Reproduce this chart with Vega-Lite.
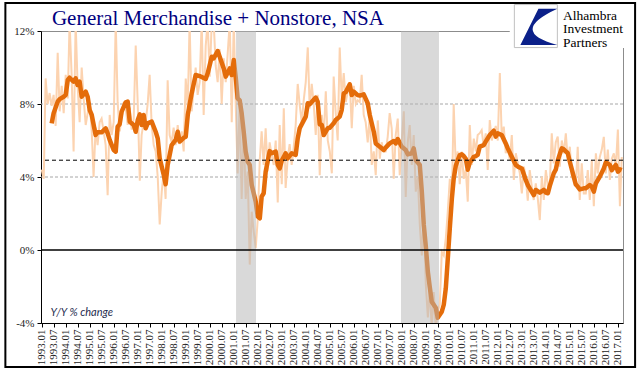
{
  "$schema": "https://vega.github.io/schema/vega-lite/v6.json",
  "width": 582,
  "height": 292,
  "autosize": {"type": "none"},
  "padding": {"left": 41, "top": 31, "right": 18, "bottom": 52},
  "background": "white",
  "datasets": {
    "thin": [
      {"d":"1993-01-01","v":4.4},{"d":"1993-02-01","v":3.9},{"d":"1993-03-01","v":9.4},{"d":"1993-04-01","v":8.0},{"d":"1993-05-01","v":8.6},{"d":"1993-06-01","v":7.9},{"d":"1993-07-01","v":8.5},{"d":"1993-08-01","v":6.8},{"d":"1993-09-01","v":10.8},{"d":"1993-10-01","v":7.6},{"d":"1993-11-01","v":9.0},{"d":"1993-12-01","v":7.5},
      {"d":"1994-01-01","v":9.6},{"d":"1994-02-01","v":8.3},{"d":"1994-03-01","v":12.5},{"d":"1994-04-01","v":9.6},{"d":"1994-05-01","v":5.4},{"d":"1994-06-01","v":12.5},{"d":"1994-07-01","v":9.0},{"d":"1994-08-01","v":7.0},{"d":"1994-09-01","v":10.0},{"d":"1994-10-01","v":8.3},{"d":"1994-11-01","v":6.85},{"d":"1994-12-01","v":7.5},
      {"d":"1995-01-01","v":8.1},{"d":"1995-02-01","v":6.5},{"d":"1995-03-01","v":4.0},{"d":"1995-04-01","v":6.7},{"d":"1995-05-01","v":5.75},{"d":"1995-06-01","v":7.0},{"d":"1995-07-01","v":7.2},{"d":"1995-08-01","v":6.5},{"d":"1995-09-01","v":5.75},{"d":"1995-10-01","v":3.0},{"d":"1995-11-01","v":7.4},{"d":"1995-12-01","v":6.3},
      {"d":"1996-01-01","v":7.0},{"d":"1996-02-01","v":12.5},{"d":"1996-03-01","v":8.1},{"d":"1996-04-01","v":6.5},{"d":"1996-05-01","v":7.2},{"d":"1996-06-01","v":8.1},{"d":"1996-07-01","v":7.8},{"d":"1996-08-01","v":6.85},{"d":"1996-09-01","v":7.8},{"d":"1996-10-01","v":6.6},{"d":"1996-11-01","v":7.2},{"d":"1996-12-01","v":11.2},
      {"d":"1997-01-01","v":8.0},{"d":"1997-02-01","v":3.8},{"d":"1997-03-01","v":6.3},{"d":"1997-04-01","v":7.0},{"d":"1997-05-01","v":7.0},{"d":"1997-06-01","v":8.0},{"d":"1997-07-01","v":9.6},{"d":"1997-08-01","v":6.85},{"d":"1997-09-01","v":5.75},{"d":"1997-10-01","v":5.4},{"d":"1997-11-01","v":4.0},{"d":"1997-12-01","v":1.4},
      {"d":"1998-01-01","v":3.2},{"d":"1998-02-01","v":4.3},{"d":"1998-03-01","v":2.8},{"d":"1998-04-01","v":9.3},{"d":"1998-05-01","v":6.3},{"d":"1998-06-01","v":5.9},{"d":"1998-07-01","v":6.7},{"d":"1998-08-01","v":5.75},{"d":"1998-09-01","v":6.85},{"d":"1998-10-01","v":5.8},{"d":"1998-11-01","v":6.5},{"d":"1998-12-01","v":5.4},
      {"d":"1999-01-01","v":9.4},{"d":"1999-02-01","v":7.8},{"d":"1999-03-01","v":12.5},{"d":"1999-04-01","v":7.6},{"d":"1999-05-01","v":8.8},{"d":"1999-06-01","v":10.0},{"d":"1999-07-01","v":8.5},{"d":"1999-08-01","v":9.2},{"d":"1999-09-01","v":12.5},{"d":"1999-10-01","v":7.4},{"d":"1999-11-01","v":11.2},{"d":"1999-12-01","v":12.5},
      {"d":"2000-01-01","v":9.5},{"d":"2000-02-01","v":12.5},{"d":"2000-03-01","v":12.5},{"d":"2000-04-01","v":10.1},{"d":"2000-05-01","v":9.2},{"d":"2000-06-01","v":11.0},{"d":"2000-07-01","v":8.0},{"d":"2000-08-01","v":10.5},{"d":"2000-09-01","v":9.2},{"d":"2000-10-01","v":10.8},{"d":"2000-11-01","v":12.5},{"d":"2000-12-01","v":7.0},
      {"d":"2001-01-01","v":12.5},{"d":"2001-02-01","v":7.8},{"d":"2001-03-01","v":4.2},{"d":"2001-04-01","v":8.1},{"d":"2001-05-01","v":2.8},{"d":"2001-06-01","v":6.85},{"d":"2001-07-01","v":2.8},{"d":"2001-08-01","v":4.3},{"d":"2001-09-01","v":-0.8},{"d":"2001-10-01","v":2.1},{"d":"2001-11-01","v":1.0},{"d":"2001-12-01","v":0.1},
      {"d":"2002-01-01","v":1.7},{"d":"2002-02-01","v":5.0},{"d":"2002-03-01","v":6.5},{"d":"2002-04-01","v":4.66},{"d":"2002-05-01","v":6.67},{"d":"2002-06-01","v":4.3},{"d":"2002-07-01","v":5.9},{"d":"2002-08-01","v":5.2},{"d":"2002-09-01","v":4.66},{"d":"2002-10-01","v":6.0},{"d":"2002-11-01","v":2.6},{"d":"2002-12-01","v":6.85},
      {"d":"2003-01-01","v":3.6},{"d":"2003-02-01","v":7.76},{"d":"2003-03-01","v":3.4},{"d":"2003-04-01","v":5.0},{"d":"2003-05-01","v":5.8},{"d":"2003-06-01","v":4.66},{"d":"2003-07-01","v":5.6},{"d":"2003-08-01","v":6.85},{"d":"2003-09-01","v":9.1},{"d":"2003-10-01","v":7.95},{"d":"2003-11-01","v":7.0},{"d":"2003-12-01","v":8.2},
      {"d":"2004-01-01","v":9.2},{"d":"2004-02-01","v":11.1},{"d":"2004-03-01","v":7.76},{"d":"2004-04-01","v":9.1},{"d":"2004-05-01","v":8.0},{"d":"2004-06-01","v":6.3},{"d":"2004-07-01","v":8.5},{"d":"2004-08-01","v":4.1},{"d":"2004-09-01","v":7.4},{"d":"2004-10-01","v":6.2},{"d":"2004-11-01","v":8.7},{"d":"2004-12-01","v":6.0},
      {"d":"2005-01-01","v":5.4},{"d":"2005-02-01","v":4.2},{"d":"2005-03-01","v":9.5},{"d":"2005-04-01","v":7.5},{"d":"2005-05-01","v":6.0},{"d":"2005-06-01","v":11.1},{"d":"2005-07-01","v":8.3},{"d":"2005-08-01","v":9.7},{"d":"2005-09-01","v":8.1},{"d":"2005-10-01","v":8.7},{"d":"2005-11-01","v":9.2},{"d":"2005-12-01","v":6.67},
      {"d":"2006-01-01","v":9.0},{"d":"2006-02-01","v":8.0},{"d":"2006-03-01","v":8.2},{"d":"2006-04-01","v":8.1},{"d":"2006-05-01","v":9.6},{"d":"2006-06-01","v":7.4},{"d":"2006-07-01","v":7.0},{"d":"2006-08-01","v":5.9},{"d":"2006-09-01","v":7.4},{"d":"2006-10-01","v":4.66},{"d":"2006-11-01","v":5.4},{"d":"2006-12-01","v":4.1},
      {"d":"2007-01-01","v":7.1},{"d":"2007-02-01","v":5.0},{"d":"2007-03-01","v":5.9},{"d":"2007-04-01","v":5.4},{"d":"2007-05-01","v":5.4},{"d":"2007-06-01","v":6.2},{"d":"2007-07-01","v":7.5},{"d":"2007-08-01","v":6.67},{"d":"2007-09-01","v":3.9},{"d":"2007-10-01","v":6.3},{"d":"2007-11-01","v":7.2},{"d":"2007-12-01","v":4.1},
      {"d":"2008-01-01","v":6.0},{"d":"2008-02-01","v":7.6},{"d":"2008-03-01","v":2.9},{"d":"2008-04-01","v":5.9},{"d":"2008-05-01","v":6.85},{"d":"2008-06-01","v":4.66},{"d":"2008-07-01","v":6.3},{"d":"2008-08-01","v":3.2},{"d":"2008-09-01","v":4.0},{"d":"2008-10-01","v":1.4},{"d":"2008-11-01","v":-0.3},{"d":"2008-12-01","v":2.1},
      {"d":"2009-01-01","v":-1.9},{"d":"2009-02-01","v":-3.7},{"d":"2009-03-01","v":-2.1},{"d":"2009-04-01","v":-4.3},{"d":"2009-05-01","v":-2.3},{"d":"2009-06-01","v":-4.3},{"d":"2009-07-01","v":-3.4},{"d":"2009-08-01","v":-3.0},{"d":"2009-09-01","v":-0.1},{"d":"2009-10-01","v":-0.3},{"d":"2009-11-01","v":0.64},{"d":"2009-12-01","v":2.1},
      {"d":"2010-01-01","v":3.9},{"d":"2010-02-01","v":2.8},{"d":"2010-03-01","v":8.0},{"d":"2010-04-01","v":4.66},{"d":"2010-05-01","v":5.4},{"d":"2010-06-01","v":3.6},{"d":"2010-07-01","v":5.4},{"d":"2010-08-01","v":3.9},{"d":"2010-09-01","v":4.4},{"d":"2010-10-01","v":2.65},{"d":"2010-11-01","v":6.85},{"d":"2010-12-01","v":4.66},
      {"d":"2011-01-01","v":6.1},{"d":"2011-02-01","v":5.4},{"d":"2011-03-01","v":6.3},{"d":"2011-04-01","v":6.4},{"d":"2011-05-01","v":6.57},{"d":"2011-06-01","v":5.66},{"d":"2011-07-01","v":6.39},{"d":"2011-08-01","v":4.38},{"d":"2011-09-01","v":7.12},{"d":"2011-10-01","v":6.0},{"d":"2011-11-01","v":6.4},{"d":"2011-12-01","v":6.8},
      {"d":"2012-01-01","v":6.0},{"d":"2012-02-01","v":9.7},{"d":"2012-03-01","v":6.2},{"d":"2012-04-01","v":6.76},{"d":"2012-05-01","v":5.3},{"d":"2012-06-01","v":5.66},{"d":"2012-07-01","v":4.93},{"d":"2012-08-01","v":6.3},{"d":"2012-09-01","v":3.84},{"d":"2012-10-01","v":5.3},{"d":"2012-11-01","v":4.75},{"d":"2012-12-01","v":4.2},
      {"d":"2013-01-01","v":3.1},{"d":"2013-02-01","v":4.57},{"d":"2013-03-01","v":4.0},{"d":"2013-04-01","v":2.7},{"d":"2013-05-01","v":4.38},{"d":"2013-06-01","v":3.47},{"d":"2013-07-01","v":2.74},{"d":"2013-08-01","v":3.65},{"d":"2013-09-01","v":2.8},{"d":"2013-10-01","v":1.64},{"d":"2013-11-01","v":4.02},{"d":"2013-12-01","v":2.74},
      {"d":"2014-01-01","v":4.38},{"d":"2014-02-01","v":3.5},{"d":"2014-03-01","v":3.47},{"d":"2014-04-01","v":6.39},{"d":"2014-05-01","v":4.75},{"d":"2014-06-01","v":5.9},{"d":"2014-07-01","v":6.21},{"d":"2014-08-01","v":4.57},{"d":"2014-09-01","v":6.0},{"d":"2014-10-01","v":5.3},{"d":"2014-11-01","v":6.39},{"d":"2014-12-01","v":4.93},
      {"d":"2015-01-01","v":5.66},{"d":"2015-02-01","v":4.0},{"d":"2015-03-01","v":4.02},{"d":"2015-04-01","v":3.47},{"d":"2015-05-01","v":5.66},{"d":"2015-06-01","v":2.74},{"d":"2015-07-01","v":4.75},{"d":"2015-08-01","v":3.1},{"d":"2015-09-01","v":3.1},{"d":"2015-10-01","v":4.38},{"d":"2015-11-01","v":2.74},{"d":"2015-12-01","v":4.93},
      {"d":"2016-01-01","v":2.4},{"d":"2016-02-01","v":5.3},{"d":"2016-03-01","v":4.2},{"d":"2016-04-01","v":5.1},{"d":"2016-05-01","v":5.5},{"d":"2016-06-01","v":6.2},{"d":"2016-07-01","v":4.2},{"d":"2016-08-01","v":5.5},{"d":"2016-09-01","v":3.84},{"d":"2016-10-01","v":5.0},{"d":"2016-11-01","v":5.3},{"d":"2016-12-01","v":4.57},
      {"d":"2017-01-01","v":6.6},{"d":"2017-02-01","v":2.4},{"d":"2017-03-01","v":5.1}
    ],
    "thick": [
      {"d":"1993-06-01","v":6.94},{"d":"1993-07-01","v":7.49},{"d":"1993-09-01","v":8.13},{"d":"1993-10-01","v":8.27},{"d":"1993-12-01","v":8.4},{"d":"1994-01-01","v":8.49},{"d":"1994-02-01","v":9.32},{"d":"1994-03-01","v":9.44},{"d":"1994-05-01","v":9.22},{"d":"1994-06-01","v":9.41},{"d":"1994-07-01","v":9.04},{"d":"1994-08-01","v":9.22},{"d":"1994-09-01","v":8.4},{"d":"1994-11-01","v":8.68},{"d":"1994-12-01","v":8.4},
      {"d":"1995-01-01","v":7.67},{"d":"1995-02-01","v":7.4},{"d":"1995-04-01","v":6.3},{"d":"1995-05-01","v":6.45},{"d":"1995-07-01","v":6.45},{"d":"1995-09-01","v":6.67},{"d":"1995-10-01","v":6.39},{"d":"1995-11-01","v":6.03},{"d":"1996-01-01","v":5.48},{"d":"1996-02-01","v":5.39},{"d":"1996-03-01","v":6.76},{"d":"1996-04-01","v":6.89},{"d":"1996-05-01","v":7.58},{"d":"1996-07-01","v":8.09},{"d":"1996-08-01","v":8.13},{"d":"1996-09-01","v":7.03},{"d":"1996-11-01","v":6.85},{"d":"1996-12-01","v":6.48},
      {"d":"1997-01-01","v":7.12},{"d":"1997-02-01","v":7.43},{"d":"1997-03-01","v":6.85},{"d":"1997-04-01","v":7.4},{"d":"1997-05-01","v":6.67},{"d":"1997-06-01","v":6.94},{"d":"1997-08-01","v":7.03},{"d":"1997-10-01","v":6.48},{"d":"1997-11-01","v":6.12},{"d":"1997-12-01","v":5.02},{"d":"1998-02-01","v":4.11},{"d":"1998-03-01","v":3.6},{"d":"1998-04-01","v":4.66},{"d":"1998-06-01","v":5.75},{"d":"1998-08-01","v":6.03},{"d":"1998-09-01","v":6.48},{"d":"1998-10-01","v":5.94},{"d":"1998-12-01","v":6.15},
      {"d":"1999-01-01","v":6.21},{"d":"1999-02-01","v":7.4},{"d":"1999-04-01","v":8.58},{"d":"1999-06-01","v":9.59},{"d":"1999-08-01","v":9.53},{"d":"1999-11-01","v":9.37},{"d":"1999-12-01","v":9.68},{"d":"2000-02-01","v":10.59},{"d":"2000-03-01","v":10.5},{"d":"2000-05-01","v":10.9},{"d":"2000-06-01","v":10.59},{"d":"2000-08-01","v":9.95},{"d":"2000-09-01","v":9.5},{"d":"2000-11-01","v":9.95},{"d":"2000-12-01","v":9.59},
      {"d":"2001-01-01","v":10.41},{"d":"2001-02-01","v":9.41},{"d":"2001-03-01","v":8.31},{"d":"2001-04-01","v":8.2},{"d":"2001-05-01","v":7.5},{"d":"2001-06-01","v":6.48},{"d":"2001-07-01","v":5.4},{"d":"2001-08-01","v":4.84},{"d":"2001-09-01","v":4.66},{"d":"2001-10-01","v":3.56},{"d":"2001-12-01","v":2.65},{"d":"2002-01-01","v":1.83},{"d":"2002-02-01","v":1.74},{"d":"2002-03-01","v":2.92},{"d":"2002-04-01","v":3.11},{"d":"2002-05-01","v":4.29},{"d":"2002-07-01","v":5.42},{"d":"2002-08-01","v":5.3},{"d":"2002-10-01","v":5.39},{"d":"2002-11-01","v":4.66},{"d":"2002-12-01","v":4.47},
      {"d":"2003-01-01","v":4.9},{"d":"2003-02-01","v":5.1},{"d":"2003-03-01","v":5.3},{"d":"2003-04-01","v":5.02},{"d":"2003-06-01","v":5.3},{"d":"2003-08-01","v":5.21},{"d":"2003-09-01","v":6.12},{"d":"2003-10-01","v":6.67},{"d":"2004-01-01","v":7.31},{"d":"2004-02-01","v":8.04},{"d":"2004-03-01","v":7.98},{"d":"2004-06-01","v":8.35},{"d":"2004-07-01","v":8.13},{"d":"2004-08-01","v":6.89},{"d":"2004-09-01","v":6.85},{"d":"2004-10-01","v":6.3},{"d":"2004-12-01","v":6.67},
      {"d":"2005-01-01","v":6.7},{"d":"2005-03-01","v":6.94},{"d":"2005-04-01","v":7.12},{"d":"2005-06-01","v":7.31},{"d":"2005-07-01","v":7.67},{"d":"2005-08-01","v":8.58},{"d":"2005-09-01","v":8.65},{"d":"2005-11-01","v":9.08},{"d":"2005-12-01","v":8.49},{"d":"2006-01-01","v":8.68},{"d":"2006-03-01","v":8.49},{"d":"2006-04-01","v":8.46},{"d":"2006-06-01","v":8.53},{"d":"2006-08-01","v":8.04},{"d":"2006-09-01","v":7.4},{"d":"2006-11-01","v":6.48},{"d":"2006-12-01","v":5.84},
      {"d":"2007-02-01","v":5.66},{"d":"2007-04-01","v":5.48},{"d":"2007-05-01","v":5.61},{"d":"2007-07-01","v":5.84},{"d":"2007-09-01","v":5.97},{"d":"2007-10-01","v":5.84},{"d":"2007-11-01","v":6.08},{"d":"2008-01-01","v":5.66},{"d":"2008-03-01","v":5.48},{"d":"2008-04-01","v":5.24},{"d":"2008-06-01","v":5.3},{"d":"2008-07-01","v":5.57},{"d":"2008-08-01","v":4.93},{"d":"2008-10-01","v":4.66},{"d":"2008-11-01","v":3.2},{"d":"2008-12-01","v":1.37},
      {"d":"2009-01-01","v":0.2},{"d":"2009-02-01","v":-1.2},{"d":"2009-03-01","v":-2.0},{"d":"2009-04-01","v":-2.83},{"d":"2009-06-01","v":-3.16},{"d":"2009-07-01","v":-3.71},{"d":"2009-09-01","v":-3.38},{"d":"2009-10-01","v":-3.0},{"d":"2009-11-01","v":-2.1},{"d":"2009-12-01","v":-0.5},
      {"d":"2010-01-01","v":1.2},{"d":"2010-02-01","v":2.8},{"d":"2010-03-01","v":3.9},{"d":"2010-04-01","v":4.6},{"d":"2010-05-01","v":4.93},{"d":"2010-06-01","v":5.2},{"d":"2010-07-01","v":5.24},{"d":"2010-08-01","v":5.15},{"d":"2010-09-01","v":5.0},{"d":"2010-10-01","v":4.4},{"d":"2010-11-01","v":4.8},{"d":"2010-12-01","v":4.93},
      {"d":"2011-01-01","v":5.11},{"d":"2011-02-01","v":5.15},{"d":"2011-03-01","v":5.21},{"d":"2011-04-01","v":5.66},{"d":"2011-06-01","v":5.75},{"d":"2011-07-01","v":5.94},{"d":"2011-09-01","v":6.3},{"d":"2011-11-01","v":6.54},{"d":"2011-12-01","v":6.21},{"d":"2012-01-01","v":6.39},{"d":"2012-03-01","v":6.3},{"d":"2012-05-01","v":5.84},{"d":"2012-06-01","v":5.57},{"d":"2012-08-01","v":5.11},{"d":"2012-10-01","v":4.66},{"d":"2012-11-01","v":4.57},
      {"d":"2013-01-01","v":4.47},{"d":"2013-03-01","v":3.84},{"d":"2013-04-01","v":3.56},{"d":"2013-05-01","v":3.38},{"d":"2013-07-01","v":3.01},{"d":"2013-08-01","v":3.29},{"d":"2013-10-01","v":3.14},{"d":"2013-12-01","v":3.29},{"d":"2014-01-01","v":3.14},{"d":"2014-02-01","v":3.11},{"d":"2014-03-01","v":3.5},{"d":"2014-05-01","v":4.2},{"d":"2014-06-01","v":4.4},{"d":"2014-07-01","v":4.9},{"d":"2014-08-01","v":5.25},{"d":"2014-09-01","v":5.57},{"d":"2014-10-01","v":5.52},{"d":"2014-11-01","v":5.4},{"d":"2014-12-01","v":5.3},
      {"d":"2015-01-01","v":4.84},{"d":"2015-03-01","v":4.02},{"d":"2015-04-01","v":3.6},{"d":"2015-05-01","v":3.47},{"d":"2015-06-01","v":3.32},{"d":"2015-08-01","v":3.38},{"d":"2015-09-01","v":3.38},{"d":"2015-11-01","v":3.56},{"d":"2015-12-01","v":3.47},{"d":"2016-01-01","v":3.2},{"d":"2016-02-01","v":3.65},{"d":"2016-04-01","v":4.02},{"d":"2016-06-01","v":4.47},{"d":"2016-07-01","v":4.8},{"d":"2016-09-01","v":4.66},{"d":"2016-10-01","v":4.38},{"d":"2016-12-01","v":4.66},{"d":"2017-01-01","v":4.29},{"d":"2017-02-01","v":4.42},{"d":"2017-03-01","v":4.38}
    ]
  },
  "layer": [
    {
      "data": {"values": [{"v": 4}, {"v": 8}]},
      "mark": {"type": "rule", "color": "#a6a6a6", "strokeWidth": 1, "strokeDash": [3, 2]},
      "encoding": {
        "y": {"field": "v", "type": "quantitative", "title": null, "scale": {"domain": [-4, 12], "nice": false, "zero": false},
          "axis": {"values": [-4, 0, 4, 8, 12], "labelExpr": "datum.value + '%'", "title": null, "grid": false, "labelFont": "Liberation Serif", "labelFontSize": 11, "labelColor": "#222222", "tickSize": 4, "tickColor": "#000000", "domainColor": "#000000", "labelPadding": 3}}
      }
    },
    {
      "data": {"name": "thin"},
      "mark": {"type": "line", "color": "#fcd3b0", "strokeWidth": 2, "clip": true},
      "encoding": {
        "x": {"field": "d", "type": "temporal", "title": null,
          "scale": {"type": "utc", "domain": [{"year": 1992, "month": 12, "date": 21, "utc": true}, {"year": 2017, "month": 3, "date": 20, "utc": true}]},
          "axis": {"format": "%Y.%m", "formatType": "utc", "labelExpr": "utcFormat(datum.value, '%Y.%m')", "tickCount": {"interval": "month", "step": 6}, "labelAngle": -90, "labelOverlap": false, "labelFont": "Liberation Serif", "labelFontSize": 11, "labelColor": "#222222", "labelPadding": 2, "tickSize": 4, "tickColor": "#000000", "domainColor": "#000000", "grid": false, "title": null}},
        "y": {"field": "v", "type": "quantitative", "title": null, "scale": {"domain": [-4, 12], "nice": false, "zero": false}}
      }
    },
    {
      "data": {"name": "thick"},
      "mark": {"type": "line", "color": "#e46c0a", "strokeWidth": 4.5, "strokeJoin": "round", "clip": true},
      "encoding": {
        "x": {"field": "d", "type": "temporal", "title": null, "scale": {"type": "utc", "domain": [{"year": 1992, "month": 12, "date": 21, "utc": true}, {"year": 2017, "month": 3, "date": 20, "utc": true}]},
          "axis": {"format": "%Y.%m", "formatType": "utc", "labelExpr": "utcFormat(datum.value, '%Y.%m')", "tickCount": {"interval": "month", "step": 6}, "labelAngle": -90, "labelOverlap": false, "labelFont": "Liberation Serif", "labelFontSize": 11, "labelColor": "#222222", "labelPadding": 2, "tickSize": 4, "tickColor": "#000000", "domainColor": "#000000", "grid": false, "title": null}},
        "y": {"field": "v", "type": "quantitative", "title": null, "scale": {"domain": [-4, 12], "nice": false, "zero": false}}
      }
    },
    {
      "data": {"values": [{"s": "2001-02-05", "e": "2001-12-05"}, {"s": "2007-12-20", "e": "2009-07-20"}]},
      "mark": {"type": "rect", "color": "#b3b3b3", "opacity": 0.5},
      "encoding": {
        "x": {"field": "s", "type": "temporal", "title": null, "scale": {"type": "utc", "domain": [{"year": 1992, "month": 12, "date": 21, "utc": true}, {"year": 2017, "month": 3, "date": 20, "utc": true}]},
          "axis": {"format": "%Y.%m", "formatType": "utc", "labelExpr": "utcFormat(datum.value, '%Y.%m')", "tickCount": {"interval": "month", "step": 6}, "labelAngle": -90, "labelOverlap": false, "labelFont": "Liberation Serif", "labelFontSize": 11, "labelColor": "#222222", "labelPadding": 2, "tickSize": 4, "tickColor": "#000000", "domainColor": "#000000", "grid": false, "title": null}},
        "x2": {"field": "e"}
      }
    },
    {
      "data": {"values": [{"v": 0}]},
      "mark": {"type": "rule", "color": "#000000", "strokeWidth": 1.5},
      "encoding": {"y": {"field": "v", "type": "quantitative", "title": null, "scale": {"domain": [-4, 12], "nice": false, "zero": false}}}
    },
    {
      "data": {"values": [{"v": 4.92}]},
      "mark": {"type": "rule", "color": "#000000", "strokeWidth": 1, "strokeDash": [4, 3]},
      "encoding": {"y": {"field": "v", "type": "quantitative", "title": null, "scale": {"domain": [-4, 12], "nice": false, "zero": false}}}
    },
    {
      "data": {"values": [{"d": "1993-05-15", "v": -3.44, "t": "Y/Y % change"}, {"d": "1993-06-05", "v": 12.33, "t": "General Merchandise + Nonstore, NSA"}]},
      "layer": [
        {"transform": [{"filter": "datum.v < 0"}], "mark": {"type": "text", "align": "left", "baseline": "middle", "font": "Lato", "fontStyle": "italic", "fontSize": 11, "color": "#1f2d50"}},
        {"transform": [{"filter": "datum.v > 0"}], "mark": {"type": "text", "align": "left", "baseline": "alphabetic", "font": "Liberation Serif", "fontSize": 21, "color": "#000080"}}
      ],
      "encoding": {
        "x": {"field": "d", "type": "temporal", "title": null, "scale": {"type": "utc", "domain": [{"year": 1992, "month": 12, "date": 21, "utc": true}, {"year": 2017, "month": 3, "date": 20, "utc": true}]},
          "axis": {"format": "%Y.%m", "formatType": "utc", "labelExpr": "utcFormat(datum.value, '%Y.%m')", "tickCount": {"interval": "month", "step": 6}, "labelAngle": -90, "labelOverlap": false, "labelFont": "Liberation Serif", "labelFontSize": 11, "labelColor": "#222222", "labelPadding": 2, "tickSize": 4, "tickColor": "#000000", "domainColor": "#000000", "grid": false, "title": null}},
        "y": {"field": "v", "type": "quantitative", "title": null, "scale": {"domain": [-4, 12], "nice": false, "zero": false}},
        "text": {"field": "t"}
      }
    },
    {
      "data": {"values": [{"s": "2012-07-01", "e": "2017-09-10", "lo": 11.07, "hi": 13.4}]},
      "mark": {"type": "rect", "color": "#ffffff"},
      "encoding": {
        "x": {"field": "s", "type": "temporal", "title": null, "scale": {"type": "utc", "domain": [{"year": 1992, "month": 12, "date": 21, "utc": true}, {"year": 2017, "month": 3, "date": 20, "utc": true}]},
          "axis": {"format": "%Y.%m", "formatType": "utc", "labelExpr": "utcFormat(datum.value, '%Y.%m')", "tickCount": {"interval": "month", "step": 6}, "labelAngle": -90, "labelOverlap": false, "labelFont": "Liberation Serif", "labelFontSize": 11, "labelColor": "#222222", "labelPadding": 2, "tickSize": 4, "tickColor": "#000000", "domainColor": "#000000", "grid": false, "title": null}},
        "x2": {"field": "e"},
        "y": {"field": "lo", "type": "quantitative", "title": null, "scale": {"domain": [-4, 12], "nice": false, "zero": false}},
        "y2": {"field": "hi"}
      }
    },
    {
      "data": {"values": [{"d": "2013-08-02", "v": 12.27}]},
      "layer": [
        {"mark": {"type": "point", "shape": "square", "size": 1849, "filled": true, "fill": "#ffffff", "stroke": "#c0c0c0", "strokeWidth": 1, "opacity": 1}},
        {"mark": {"type": "point", "shape": "M 0.12 -0.8 L 1 -0.8 Q -1.3 0.26 1 0.88 L -0.72 0.88 Z", "size": 1849, "filled": true, "fill": "#0b2089", "strokeWidth": 0, "opacity": 1}}
      ],
      "encoding": {
        "x": {"field": "d", "type": "temporal", "title": null, "scale": {"type": "utc", "domain": [{"year": 1992, "month": 12, "date": 21, "utc": true}, {"year": 2017, "month": 3, "date": 20, "utc": true}]},
          "axis": {"format": "%Y.%m", "formatType": "utc", "labelExpr": "utcFormat(datum.value, '%Y.%m')", "tickCount": {"interval": "month", "step": 6}, "labelAngle": -90, "labelOverlap": false, "labelFont": "Liberation Serif", "labelFontSize": 11, "labelColor": "#222222", "labelPadding": 2, "tickSize": 4, "tickColor": "#000000", "domainColor": "#000000", "grid": false, "title": null}},
        "y": {"field": "v", "type": "quantitative", "title": null, "scale": {"domain": [-4, 12], "nice": false, "zero": false}}
      }
    },
    {
      "data": {"values": [{"d": "2014-09-20", "v": 12.63}]},
      "mark": {"type": "text", "text": ["Alhambra", "Investment", "Partners"], "align": "left", "baseline": "alphabetic", "lineHeight": 13.5, "font": "Liberation Serif", "fontSize": 13.5, "color": "#000000"},
      "encoding": {
        "x": {"field": "d", "type": "temporal", "title": null, "scale": {"type": "utc", "domain": [{"year": 1992, "month": 12, "date": 21, "utc": true}, {"year": 2017, "month": 3, "date": 20, "utc": true}]},
          "axis": {"format": "%Y.%m", "formatType": "utc", "labelExpr": "utcFormat(datum.value, '%Y.%m')", "tickCount": {"interval": "month", "step": 6}, "labelAngle": -90, "labelOverlap": false, "labelFont": "Liberation Serif", "labelFontSize": 11, "labelColor": "#222222", "labelPadding": 2, "tickSize": 4, "tickColor": "#000000", "domainColor": "#000000", "grid": false, "title": null}},
        "y": {"field": "v", "type": "quantitative", "title": null, "scale": {"domain": [-4, 12], "nice": false, "zero": false}}
      }
    },
    {
      "data": {"values": [{"s": "1991-06-28", "e": "2017-09-20", "lo": -6.41, "hi": 13.53}]},
      "mark": {"type": "rect", "fill": null, "fillOpacity": 0, "stroke": "#000000", "strokeWidth": 2},
      "encoding": {
        "x": {"field": "s", "type": "temporal", "title": null, "scale": {"type": "utc", "domain": [{"year": 1992, "month": 12, "date": 21, "utc": true}, {"year": 2017, "month": 3, "date": 20, "utc": true}]},
          "axis": {"format": "%Y.%m", "formatType": "utc", "labelExpr": "utcFormat(datum.value, '%Y.%m')", "tickCount": {"interval": "month", "step": 6}, "labelAngle": -90, "labelOverlap": false, "labelFont": "Liberation Serif", "labelFontSize": 11, "labelColor": "#222222", "labelPadding": 2, "tickSize": 4, "tickColor": "#000000", "domainColor": "#000000", "grid": false, "title": null}},
        "x2": {"field": "e"},
        "y": {"field": "lo", "type": "quantitative", "title": null, "scale": {"domain": [-4, 12], "nice": false, "zero": false}},
        "y2": {"field": "hi"}
      }
    }
  ],
  "config": {
    "view": {"stroke": "#8c8c8c", "strokeWidth": 1}
  }
}
